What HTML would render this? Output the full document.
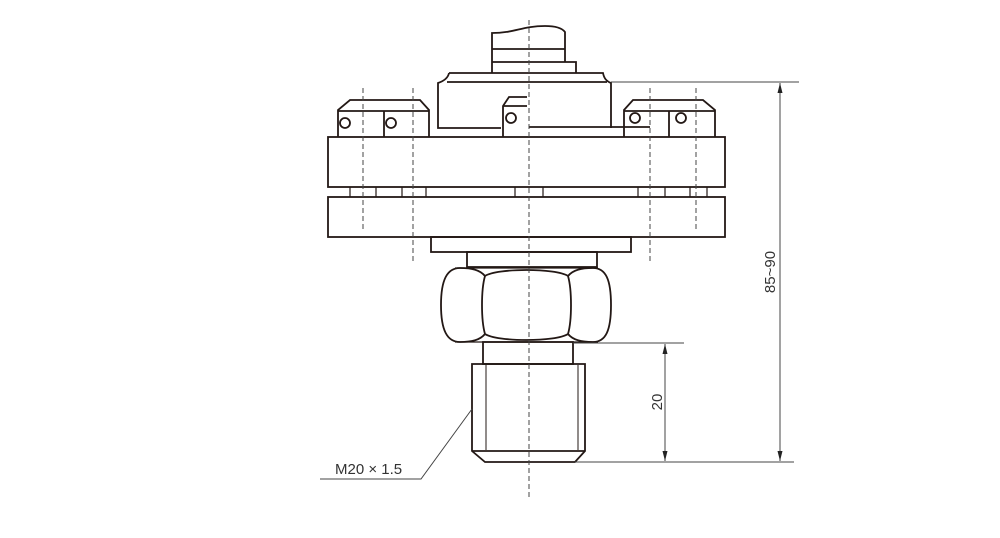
<!DOCTYPE html>
<html><head><meta charset="utf-8"><style>
html,body{margin:0;padding:0;background:#fff;}
svg{display:block;}
text{font-family:"Liberation Sans",Arial,sans-serif;fill:#333;}
</style></head><body>
<svg width="1000" height="538" viewBox="0 0 1000 538" xmlns="http://www.w3.org/2000/svg">
<defs>
<marker id="a" viewBox="0 0 10 10" refX="10" refY="5" markerWidth="10" markerHeight="10" orient="auto-start-reverse" markerUnits="userSpaceOnUse"><path d="M0,2.5 L10,5 L0,7.5 Z" fill="#222"/></marker>
</defs>
<g fill="none" stroke="#231815" stroke-width="1.8">
<!-- cap -->
<path d="M492,73 V33 C515,33 522,26 545,26 C555,26 562,28 565,32 V62"/>
<line x1="492" y1="49" x2="565" y2="49"/>
<path d="M492,62 H576 V73"/>
<!-- dome -->
<path d="M449,73 H603 C604,78 606,81 611,83 V128"/>
<path d="M449,73 C448,78 444,81 438,83 V128 H501"/>
<line x1="447" y1="82" x2="607" y2="82"/>
<line x1="529" y1="127" x2="650" y2="127"/>
<!-- middle block -->
<path d="M503,137 V106 L509,97 H527"/>
<line x1="503" y1="106" x2="527" y2="106"/>
<circle cx="511" cy="118" r="5"/>
<!-- left block -->
<path d="M338,137 V110 L350,100 H420 L429,110 V137"/>
<line x1="338" y1="111" x2="429" y2="111"/>
<line x1="384" y1="111" x2="384" y2="137"/>
<circle cx="345" cy="123" r="5"/><circle cx="391" cy="123" r="5"/>
<!-- right block -->
<path d="M624,137 V110 L633,100 H703 L715,110 V137"/>
<line x1="624" y1="111" x2="715" y2="111"/>
<line x1="669" y1="111" x2="669" y2="137"/>
<circle cx="635" cy="118" r="5"/><circle cx="681" cy="118" r="5"/>
<!-- flanges -->
<rect x="328" y="137" width="397" height="50"/>
<rect x="328" y="197" width="397" height="40"/>
<rect x="431" y="237" width="200" height="15"/>
<rect x="467" y="252" width="130" height="15"/>
<!-- hex: three lobes -->
<path d="M485,276 C480,270 472,268 460,268 C447,268 441,280 441,305 C441,330 447,342 460,342 C472,342 480,340 485,334"/>
<path d="M568,276 C573,270 581,268 593,268 C606,268 611,280 611,305 C611,330 606,342 593,342 C581,342 573,340 568,334"/>
<path d="M485,276 C497,268 556,268 568,276 C572,290 572,320 568,334 C556,342 497,342 485,334 C481,320 481,290 485,276 Z"/>
<line x1="455" y1="268" x2="598" y2="268" stroke-width="1.2"/>
<line x1="455" y1="342" x2="598" y2="342" stroke-width="1.2"/>
<!-- neck & thread -->
<rect x="483" y="342" width="90" height="22"/>
<path d="M472,364 H585 V451 L575,462 H485 L472,451 Z"/>
<line x1="472" y1="451" x2="585" y2="451"/>
</g>
<g stroke="#231815" stroke-width="1">
<line x1="486" y1="365" x2="486" y2="450"/>
<line x1="578" y1="365" x2="578" y2="450"/>
<g stroke-width="1.2">
<line x1="350" y1="187" x2="350" y2="197"/><line x1="376" y1="187" x2="376" y2="197"/>
<line x1="402" y1="187" x2="402" y2="197"/><line x1="426" y1="187" x2="426" y2="197"/>
<line x1="515" y1="187" x2="515" y2="197"/><line x1="543" y1="187" x2="543" y2="197"/>
<line x1="638" y1="187" x2="638" y2="197"/><line x1="665" y1="187" x2="665" y2="197"/>
<line x1="690" y1="187" x2="690" y2="197"/><line x1="707" y1="187" x2="707" y2="197"/>
</g>
</g>
<g stroke="#444" stroke-width="1" stroke-dasharray="5,3">
<line x1="529" y1="20" x2="529" y2="497"/>
<line x1="363" y1="88" x2="363" y2="232"/>
<line x1="413" y1="88" x2="413" y2="262"/>
<line x1="650" y1="88" x2="650" y2="262"/>
<line x1="696" y1="88" x2="696" y2="232"/>
</g>
<g stroke="#444" stroke-width="1" fill="none">
<line x1="611" y1="82" x2="799" y2="82"/>
<line x1="575" y1="462" x2="794" y2="462"/>
<line x1="573" y1="343" x2="684" y2="343"/>
<line x1="780" y1="83" x2="780" y2="461" marker-start="url(#a)" marker-end="url(#a)"/>
<line x1="665" y1="344" x2="665" y2="461" marker-start="url(#a)" marker-end="url(#a)"/>
<polyline points="472,409 421,479 320,479"/>
</g>
<text x="0" y="0" font-size="15" text-anchor="middle" transform="translate(775,272) rotate(-90)">85~90</text>
<text x="0" y="0" font-size="15" text-anchor="middle" transform="translate(662,402) rotate(-90)">20</text>
<text x="335" y="474" font-size="15">M20 × 1.5</text>
</svg>
</body></html>
